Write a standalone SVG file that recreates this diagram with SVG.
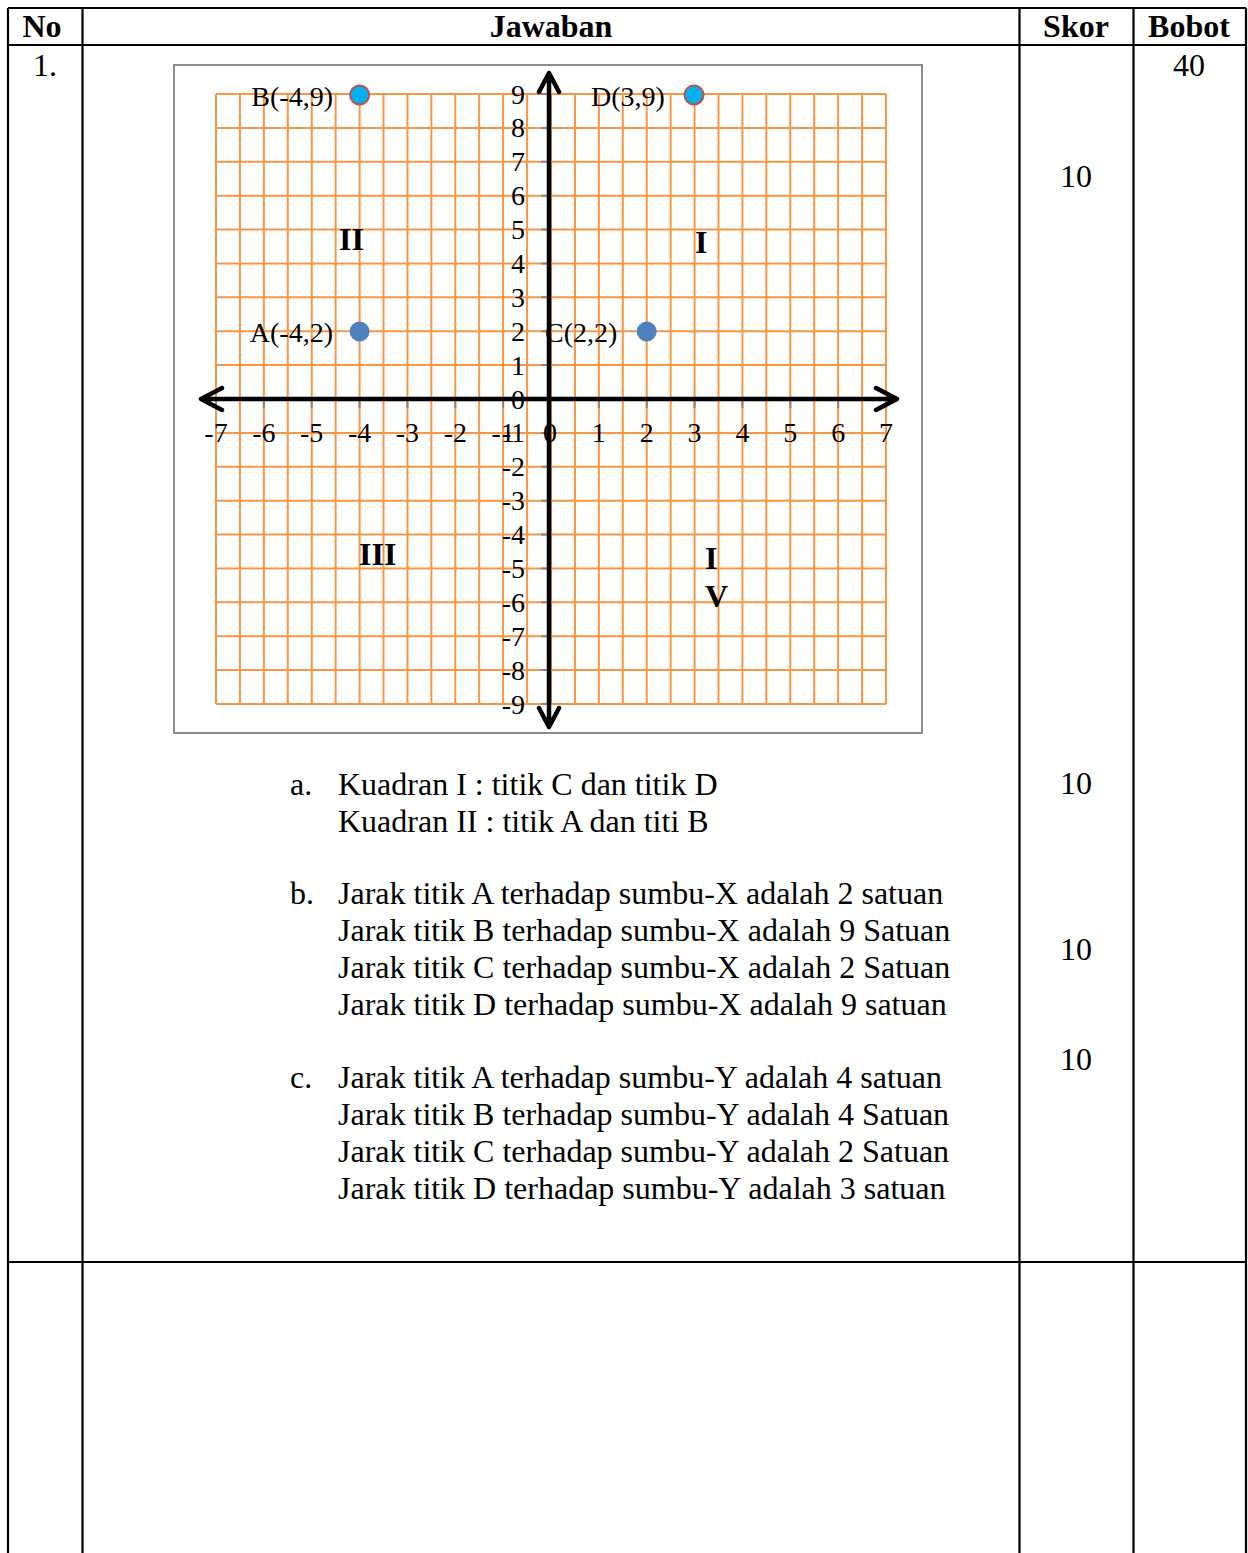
<svg xmlns="http://www.w3.org/2000/svg" width="1248" height="1553" viewBox="0 0 1248 1553">
<style>
.tl{stroke:#000;stroke-width:2.2;fill:none}
.hd{font-family:"Liberation Serif","Times New Roman",serif;font-size:32px;font-weight:bold;fill:#000}
.tx{font-family:"Liberation Serif","Times New Roman",serif;font-size:32px;fill:#000}
.ch{font-family:"Liberation Serif","Times New Roman",serif;font-size:28px;fill:#000}
.q{font-family:"Liberation Serif","Times New Roman",serif;font-size:32px;font-weight:bold;fill:#000}
.grid{stroke:#f79646;stroke-width:2;fill:none}
.tick{stroke:#868686;stroke-width:2;fill:none}
.ax{stroke:#000;stroke-width:4.5;fill:none;stroke-linecap:round;stroke-linejoin:round}
.mid{text-anchor:middle}
.end{text-anchor:end}
</style>
<rect width="1248" height="1553" fill="#fff"/>
<g id="table">
<path class="tl" d="M8 8H1246M8 45H1246M8 1262H1246M8 8V1553M82.5 8V1553M1019.5 8V1553M1133.5 8V1553M1246 8V1553"/>
<text class="hd mid" x="42" y="37">No</text>
<text class="hd mid" x="551" y="37">Jawaban</text>
<text class="hd mid" x="1076" y="37">Skor</text>
<text class="hd mid" x="1189" y="37">Bobot</text>
<text class="tx" x="33" y="76">1.</text>
<text class="tx mid" x="1189" y="76">40</text>
<text class="tx mid" x="1076" y="187">10</text>
<text class="tx mid" x="1076" y="794">10</text>
<text class="tx mid" x="1076" y="960">10</text>
<text class="tx mid" x="1076" y="1070">10</text>
</g>
<g id="chart">
<rect x="174" y="65" width="748" height="668" fill="#fff" stroke="#8c8c8c" stroke-width="2"/>
<path class="grid" d="M216 94V704M239.93 94V704M263.86 94V704M287.79 94V704M311.71 94V704M335.64 94V704M359.57 94V704M383.5 94V704M407.43 94V704M431.36 94V704M455.29 94V704M479.21 94V704M503.14 94V704M527.07 94V704M551 94V704M574.93 94V704M598.86 94V704M622.79 94V704M646.71 94V704M670.64 94V704M694.57 94V704M718.5 94V704M742.43 94V704M766.36 94V704M790.29 94V704M814.21 94V704M838.14 94V704M862.07 94V704M886 94V704M216 94H886M216 127.89H886M216 161.78H886M216 195.67H886M216 229.56H886M216 263.44H886M216 297.33H886M216 331.22H886M216 365.11H886M216 399H886M216 432.89H886M216 466.78H886M216 500.67H886M216 534.56H886M216 568.44H886M216 602.33H886M216 636.22H886M216 670.11H886M216 704H886"/>
<path class="tick" d="M541 94H549M541 127.89H549M541 161.78H549M541 195.67H549M541 229.56H549M541 263.44H549M541 297.33H549M541 331.22H549M541 365.11H549M541 432.89H549M541 466.78H549M541 500.67H549M541 534.56H549M541 568.44H549M541 602.33H549M541 636.22H549M541 670.11H549M541 704H549M216 399V408M263.86 399V408M311.71 399V408M359.57 399V408M407.43 399V408M455.29 399V408M503.14 399V408M598.86 399V408M646.71 399V408M694.57 399V408M742.43 399V408M790.29 399V408M838.14 399V408M886 399V408"/>
<g id="axes">
<path class="ax" d="M203 399H896M222 388L201 399L222 410M876 388L897 399L876 410"/>
<path class="ax" d="M549 75V726M539 92L549 73L559 92M539 708L549 727L559 708"/>
</g>
<g id="ylabels" class="ch end">
<text x="525" y="103.5">9</text>
<text x="525" y="137.4">8</text>
<text x="525" y="171.3">7</text>
<text x="525" y="205.2">6</text>
<text x="525" y="239.1">5</text>
<text x="525" y="272.9">4</text>
<text x="525" y="306.8">3</text>
<text x="525" y="340.7">2</text>
<text x="525" y="374.6">1</text>
<text x="525" y="408.5">0</text>
<text x="525" y="442.4">-1</text>
<text x="525" y="476.3">-2</text>
<text x="525" y="510.2">-3</text>
<text x="525" y="544.1">-4</text>
<text x="525" y="577.9">-5</text>
<text x="525" y="611.8">-6</text>
<text x="525" y="645.7">-7</text>
<text x="525" y="679.6">-8</text>
<text x="525" y="713.5">-9</text>
</g>
<g id="xlabels" class="ch mid">
<text x="216" y="442">-7</text>
<text x="263.86" y="442">-6</text>
<text x="311.71" y="442">-5</text>
<text x="359.57" y="442">-4</text>
<text x="407.43" y="442">-3</text>
<text x="455.29" y="442">-2</text>
<text x="503.14" y="442">-1</text>
<text x="550" y="442">0</text>
<text x="598.86" y="442">1</text>
<text x="646.71" y="442">2</text>
<text x="694.57" y="442">3</text>
<text x="742.43" y="442">4</text>
<text x="790.29" y="442">5</text>
<text x="838.14" y="442">6</text>
<text x="886" y="442">7</text>
</g>
<g id="pointB">
<circle cx="359.6" cy="95" r="9.5" fill="#00b0f0" stroke="#c0504d" stroke-width="2"/>
<text class="ch end" x="333" y="106">B(-4,9)</text>
</g>
<g id="pointD">
<circle cx="694" cy="95" r="9.5" fill="#00b0f0" stroke="#c0504d" stroke-width="2"/>
<text class="ch" x="591" y="106">D(3,9)</text>
</g>
<g id="pointA">
<circle cx="359.6" cy="331.5" r="10" fill="#4f81bd"/>
<text class="ch end" x="333" y="342">A(-4,2)</text>
</g>
<g id="pointC">
<circle cx="646.7" cy="331.5" r="10" fill="#4f81bd"/>
<text class="ch" x="545" y="342">C(2,2)</text>
</g>
<g id="quadrants">
<text class="q" x="339" y="250">II</text>
<text class="q" x="695" y="253">I</text>
<text class="q" x="359" y="565">III</text>
<text class="q" x="705" y="569">I</text>
<text class="q" x="705" y="607">V</text>
</g>
</g>
<g id="answers" class="tx">
<text x="290" y="795">a.</text>
<text x="338" y="795">Kuadran I : titik C dan titik D</text>
<text x="338" y="832">Kuadran II : titik A dan titi B</text>
<text x="290" y="904">b.</text>
<text x="338" y="904">Jarak titik A terhadap sumbu-X adalah 2 satuan</text>
<text x="338" y="941">Jarak titik B terhadap sumbu-X adalah 9 Satuan</text>
<text x="338" y="978">Jarak titik C terhadap sumbu-X adalah 2 Satuan</text>
<text x="338" y="1015">Jarak titik D terhadap sumbu-X adalah 9 satuan</text>
<text x="290" y="1088">c.</text>
<text x="338" y="1088">Jarak titik A terhadap sumbu-Y adalah 4 satuan</text>
<text x="338" y="1125">Jarak titik B terhadap sumbu-Y adalah 4 Satuan</text>
<text x="338" y="1162">Jarak titik C terhadap sumbu-Y adalah 2 Satuan</text>
<text x="338" y="1199">Jarak titik D terhadap sumbu-Y adalah 3 satuan</text>
</g>
</svg>
